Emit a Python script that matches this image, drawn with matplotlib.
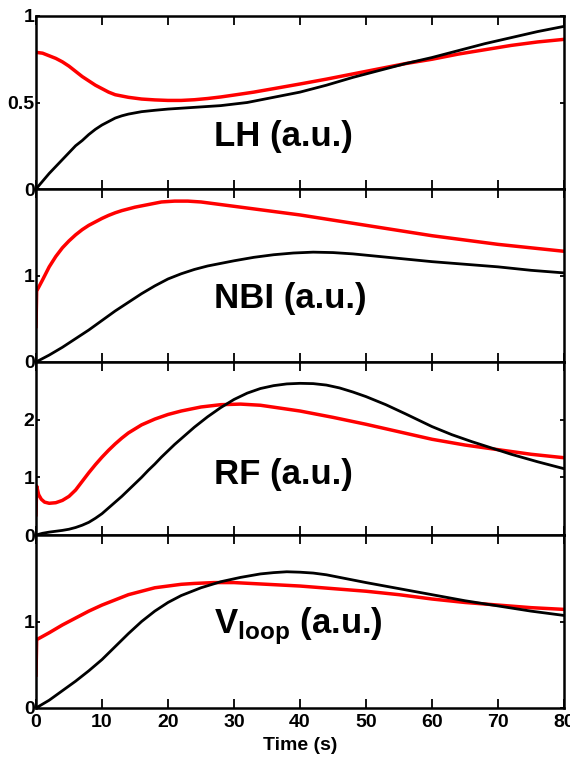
import numpy as np
import matplotlib.pyplot as plt

plt.rcParams['mathtext.fontset'] = 'custom'
plt.rcParams['mathtext.bf'] = 'Liberation Sans:bold'
plt.rcParams['mathtext.rm'] = 'Liberation Sans'

# LH
lh_ref_t = [0, 1, 2, 3, 4, 5, 6, 7, 8, 9, 10, 11, 12, 14, 16, 18, 20, 22, 24, 26, 28, 30, 33,
            36, 40, 44, 48, 52, 56, 60, 64, 68, 72, 76, 80]
lh_ref = [0.79, 0.785, 0.77, 0.755, 0.735, 0.71, 0.68, 0.65, 0.625, 0.60, 0.58, 0.56, 0.545,
          0.53, 0.52, 0.515, 0.512, 0.512, 0.516, 0.523, 0.532, 0.543, 0.56, 0.58, 0.607, 0.635,
          0.665, 0.695, 0.725, 0.75, 0.78, 0.805, 0.83, 0.85, 0.865]
lh_sim_t = [0, 1, 2, 3, 4, 5, 6, 7, 8, 9, 10, 11, 12, 13, 14, 16, 18, 20, 24, 28, 32, 36, 40,
            44, 48, 52, 56, 60, 64, 68, 72, 76, 80]
lh_sim = [0.0, 0.045, 0.09, 0.13, 0.17, 0.21, 0.25, 0.28, 0.315, 0.345, 0.37, 0.39, 0.41, 0.423,
          0.433, 0.447, 0.455, 0.462, 0.472, 0.482, 0.50, 0.53, 0.56, 0.60, 0.645, 0.685, 0.725,
          0.76, 0.80, 0.84, 0.875, 0.91, 0.94]

# NBI
nbi_ref_t = [0, 0.1, 1, 2, 3, 4, 5, 6, 7, 8, 9, 10, 11, 12, 13, 14, 15, 17, 19, 21, 23, 25,
             28, 31, 34, 37, 40, 45, 50, 55, 60, 65, 70, 75, 80]
nbi_ref = [0.41, 0.82, 0.95, 1.10, 1.22, 1.32, 1.40, 1.47, 1.53, 1.58, 1.62, 1.66, 1.695, 1.725,
           1.75, 1.77, 1.79, 1.82, 1.85, 1.86, 1.86, 1.85, 1.82, 1.79, 1.76, 1.73, 1.70, 1.64,
           1.58, 1.52, 1.46, 1.41, 1.36, 1.32, 1.28]
nbi_sim_t = [0, 2, 4, 6, 8, 10, 12, 14, 16, 18, 20, 22, 24, 26, 28, 30, 33, 36, 39, 42, 45,
             48, 52, 56, 60, 65, 70, 75, 80]
nbi_sim = [0.0, 0.08, 0.17, 0.27, 0.37, 0.48, 0.59, 0.69, 0.79, 0.88, 0.96, 1.02, 1.07, 1.11,
           1.14, 1.17, 1.21, 1.24, 1.26, 1.27, 1.265, 1.25, 1.22, 1.19, 1.16, 1.13, 1.10, 1.06,
           1.03]

# RF
rf_ref_t = [0, 0.1, 0.4, 0.8, 1.3, 2, 3, 4, 5, 6, 7, 8, 9, 10, 11, 12, 13, 14, 15, 16, 18, 20,
            22, 25, 28, 31, 34, 37, 40, 45, 50, 55, 60, 65, 70, 75, 80]
rf_ref = [0.35, 0.85, 0.70, 0.62, 0.57, 0.55, 0.56, 0.60, 0.67, 0.78, 0.93, 1.08, 1.22, 1.35,
          1.47, 1.58, 1.68, 1.77, 1.84, 1.91, 2.01, 2.09, 2.15, 2.22, 2.26, 2.27, 2.25, 2.20,
          2.15, 2.04, 1.92, 1.79, 1.66, 1.56, 1.48, 1.40, 1.34]
rf_sim_t = [0, 1, 2, 3, 4, 5, 6, 7, 8, 9, 10, 11, 12, 13, 14, 15, 16, 17, 18, 19, 20, 21, 22,
            24, 26, 28, 30, 32, 34, 36, 38, 40, 42, 44, 46, 48, 50, 53, 56, 60, 63, 66, 69, 72,
            76, 80]
rf_sim = [0.0, 0.03, 0.05, 0.065, 0.08, 0.10, 0.13, 0.17, 0.22, 0.29, 0.37, 0.47, 0.57, 0.67,
          0.78, 0.89, 1.00, 1.12, 1.23, 1.35, 1.46, 1.57, 1.67, 1.87, 2.05, 2.21, 2.35, 2.46,
          2.54, 2.59, 2.62, 2.63, 2.625, 2.60, 2.55, 2.48, 2.40, 2.26, 2.10, 1.88, 1.74, 1.62,
          1.51, 1.40, 1.27, 1.15]

# loop voltage
vl_ref_t = [0, 0.1, 2, 4, 6, 8, 10, 12, 14, 16, 18, 20, 22, 24, 27, 30, 35, 40, 45, 50, 55, 60,
            65, 70, 75, 80]
vl_ref = [0.38, 0.79, 0.87, 0.96, 1.04, 1.12, 1.19, 1.25, 1.31, 1.35, 1.39, 1.41, 1.43, 1.44,
          1.45, 1.45, 1.43, 1.41, 1.38, 1.35, 1.31, 1.26, 1.22, 1.19, 1.16, 1.14]
vl_sim_t = [0, 2, 4, 6, 8, 10, 12, 14, 16, 18, 20, 22, 25, 28, 31, 34, 36, 38, 40, 42, 44, 46,
            50, 55, 60, 65, 70, 75, 80]
vl_sim = [0.0, 0.09, 0.20, 0.31, 0.43, 0.56, 0.71, 0.86, 1.00, 1.12, 1.22, 1.30, 1.39, 1.46,
          1.51, 1.55, 1.565, 1.575, 1.57, 1.56, 1.54, 1.51, 1.45, 1.38, 1.31, 1.24, 1.18, 1.12,
          1.07]

panels = [
    ('LH (a.u.)', lh_ref_t, lh_ref, lh_sim_t, lh_sim, 1.0, [0, 0.5, 1], ['0', '0.5', '1'], 0.247),
    ('NBI (a.u.)', nbi_ref_t, nbi_ref, nbi_sim_t, nbi_sim, 2.0, [0, 1], ['0', '1'], 0.312),
    ('RF (a.u.)', rf_ref_t, rf_ref, rf_sim_t, rf_sim, 3.0, [0, 1, 2], ['0', '1', '2'], 0.294),
    (r'V$_{\mathbf{loop}}$ (a.u.)', vl_ref_t, vl_ref, vl_sim_t, vl_sim, 2.0, [0, 1], ['0', '1'], 0.427),
]

tick_font = ['Liberation Sans Narrow', 'Liberation Sans', 'DejaVu Sans']

fig, axes = plt.subplots(4, 1, figsize=(5.7, 7.71), dpi=100, sharex=True)
fig.subplots_adjust(left=36 / 570, right=564 / 570, bottom=1 - 708 / 771, top=1 - 16 / 771,
                    hspace=0)

for ax, (label, rt, rv, st, sv, ymax, yt, ytl, ty) in zip(axes, panels):
    ax.plot(rt, rv, color='red', lw=2.5, solid_joinstyle='round')
    ax.plot(st, sv, color='black', lw=2.0, solid_joinstyle='round')
    ax.set_xlim(0, 80)
    ax.set_ylim(0, ymax)
    ax.set_xticks(np.arange(0, 81, 10))
    ax.set_yticks(yt)
    ax.set_yticklabels(ytl, family=tick_font, fontweight='bold', fontsize=14)
    for s in ax.spines.values():
        s.set_linewidth(1.8)
    ax.tick_params(axis='x', direction='in', top=True, length=6.5, width=1.3, pad=4)
    ax.tick_params(axis='y', direction='in', right=True, length=3, width=1.3, pad=1)
    ax.text(0.337, ty, label, transform=ax.transAxes, ha='left', va='baseline',
            family='Liberation Sans', fontweight='bold', fontsize=25)

axes[-1].set_xticklabels([str(v) for v in range(0, 81, 10)], family=tick_font,
                         fontweight='bold', fontsize=14)
axes[-1].set_xlabel('Time (s)', family=tick_font, fontweight='bold', fontsize=14, labelpad=5)

fig.savefig('out.png', dpi=100)
